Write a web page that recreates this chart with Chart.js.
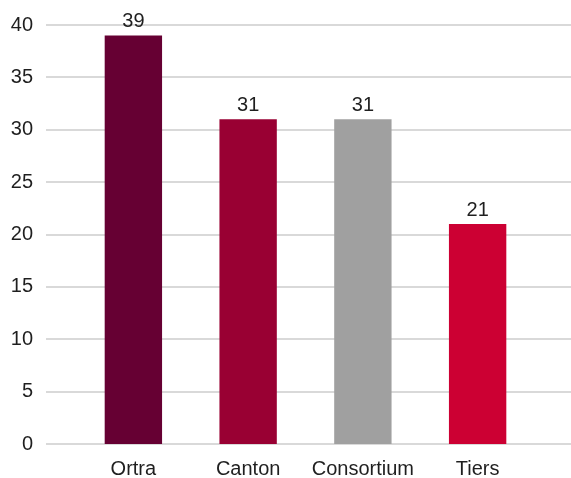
<!DOCTYPE html>
<html>
<head>
<meta charset="utf-8">
<script src="https://cdn.jsdelivr.net/npm/chart.js@4"></script>
<style>
html,body{margin:0;padding:0;background:#fff;}
</style>
</head>
<body>
<canvas id="c" width="571" height="478"></canvas>
<script>
const categories = ["Ortra", "Canton", "Consortium", "Tiers"];
const values = [39, 31, 31, 21];
const barColors = ["#660033", "#990033", "#A0A0A0", "#CC0033"];
const yTicks = [0, 5, 10, 15, 20, 25, 30, 35, 40];

const FONT = "'Liberation Sans', Arial, sans-serif";
const TEXT = "#1F1F1F";

const gridPlugin = {
  id: 'fullGrid',
  beforeDatasetsDraw(chart) {
    const ctx = chart.ctx, y = chart.scales.y;
    ctx.save();
    ctx.strokeStyle = '#D9D9D9';
    ctx.lineWidth = 2;
    yTicks.forEach(v => {
      const py = Math.round(y.getPixelForValue(v));
      ctx.beginPath();
      ctx.moveTo(46, py);
      ctx.lineTo(chart.width, py);
      ctx.stroke();
    });
    ctx.restore();
  }
};

const labelPlugin = {
  id: 'valueLabels',
  afterDatasetsDraw(chart) {
    const ctx = chart.ctx;
    const meta = chart.getDatasetMeta(0);
    ctx.save();
    ctx.font = "20px " + FONT;
    ctx.fillStyle = TEXT;
    ctx.textAlign = 'center';
    ctx.textBaseline = 'alphabetic';
    meta.data.forEach((bar, i) => {
      ctx.fillText(String(values[i]), bar.x, bar.y - 8.5);
    });
    ctx.restore();
  }
};

new Chart(document.getElementById('c'), {
  type: 'bar',
  data: {
    labels: categories,
    datasets: [{
      data: values,
      backgroundColor: barColors,
      borderWidth: 0,
      barPercentage: 1,
      categoryPercentage: 0.5
    }]
  },
  options: {
    responsive: false,
    animation: false,
    devicePixelRatio: 1,
    layout: { padding: { left: 0, right: 36, top: 25, bottom: 0 } },
    plugins: { legend: { display: false }, tooltip: { enabled: false } },
    scales: {
      x: {
        grid: { display: false, drawTicks: false },
        border: { display: false },
        ticks: { color: TEXT, font: { size: 20, family: FONT }, padding: 13, maxRotation: 0, autoSkip: false },
        afterFit(s) { s.height = 34; }
      },
      y: {
        min: 0, max: 40,
        grid: { display: false, drawTicks: true, tickLength: 40 },
        border: { display: false },
        ticks: { color: TEXT, font: { size: 20, family: FONT }, padding: 3, stepSize: 5 },
        afterFit(s) { s.width = 76; }
      }
    }
  },
  plugins: [gridPlugin, labelPlugin]
});
</script>
</body>
</html>
